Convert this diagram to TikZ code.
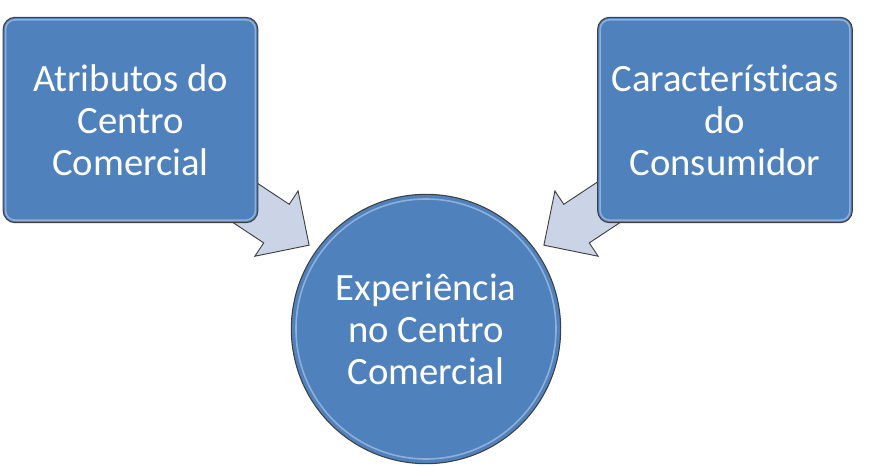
\documentclass[tikz,border=0pt]{standalone}
\usepackage{fontspec}
\setmainfont{Carlito}[Ligatures={NoCommon}]
\usetikzlibrary{shapes.arrows}
\definecolor{BoxFill}{HTML}{4F81BD}
\definecolor{BoxHighlight}{HTML}{A9C3E8}
\definecolor{ArrowFill}{HTML}{CBD3E7}
\colorlet{EdgeColor}{black!75}

\begin{document}
\begin{tikzpicture}[x=0.75pt, y=-0.75pt,
    caixa/.style={draw=EdgeColor, line width=0.8pt, fill=BoxFill, rounded corners=9pt,
        minimum width=191pt, minimum height=154pt, text=white, align=center,
        font=\fontsize{29}{31.5}\selectfont},
    circulo/.style={draw=EdgeColor, line width=0.8pt, fill=BoxFill, circle,
        minimum size=202pt, inner sep=0pt, text=white, align=center,
        font=\fontsize{29}{31.5}\selectfont},
    seta/.style={single arrow, draw=EdgeColor, line width=0.7pt, fill=ArrowFill,
        inner xsep=0pt, inner ysep=17pt, single arrow head extend=12pt,
        minimum height=62pt, minimum width=1pt},
    brilho/.style={draw=BoxHighlight, line width=1.2pt, opacity=0.7}]

    \useasboundingbox (0,0) rectangle (869,466);

    % Setas por baixo das caixas
    \node[seta, rotate=-33.5] (SetaA) at (265,216) {};
    \node[seta, rotate=-146.5] (SetaB) at (588,216) {};

    \node[caixa] (Atributos) at (130.5,120) {Atributos do\\Centro\\Comercial};
    \node[caixa] (Consumidor) at (725,120) {Características\\do\\Consumidor};
    \node[circulo] (Experiencia) at (426,329) {Experiência\\no Centro\\Comercial};

    \draw[brilho, rounded corners=7pt] ([shift={(3,3)}]Atributos.north west)
        rectangle ([shift={(-3,-3)}]Atributos.south east);
    \draw[brilho, rounded corners=7pt] ([shift={(3,3)}]Consumidor.north west)
        rectangle ([shift={(-3,-3)}]Consumidor.south east);
    \draw[brilho] (Experiencia.center) circle (97.5pt);
\end{tikzpicture}
\end{document}
